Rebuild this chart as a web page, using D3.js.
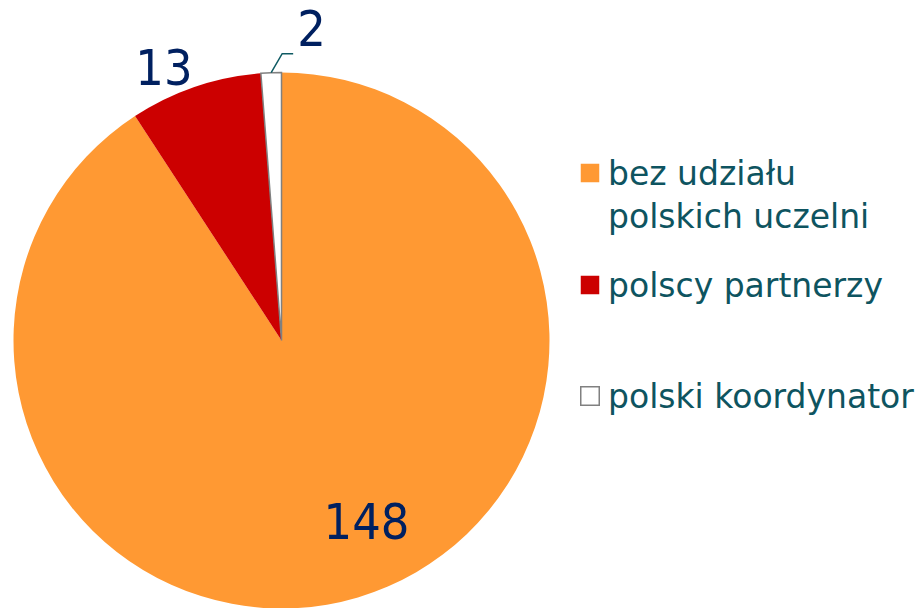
<!DOCTYPE html>
<html>
<head>
<meta charset="utf-8">
<script src="https://cdn.jsdelivr.net/npm/d3@7"></script>
<style>
  body { margin: 0; background: #fff; }
  svg text { font-family: "DejaVu Sans Condensed", "DejaVu Sans", sans-serif; }
  svg .legend text { font-family: "DejaVu Sans", sans-serif; }
</style>
</head>
<body>
<div id="chart"></div>
<script>
// slices, clockwise from 12 o'clock
const categories = ['bez udziału polskich uczelni', 'polscy partnerzy', 'polski koordynator']
const legendLines = [['bez udziału', 'polskich uczelni'], ['polscy partnerzy'], ['polski koordynator']]
const values = [148, 13, 2]
const colors = ['#ff9933', '#cc0000', '#ffffff']
const strokes = ['none', 'none', '#808080']

const w = 924, h = 608
const cx = 281.5, cy = 340.5, r = 268

const svg = d3.select('#chart').append('svg').attr('width', w).attr('height', h)
const g = svg.append('g').attr('transform', `translate(${cx},${cy})`)

const pie = d3.pie().sort(null).value(d => d)
const arcs = pie(values)
const arc = d3.arc().innerRadius(0).outerRadius(r)

g.selectAll('path.slice').data(arcs).enter().append('path')
  .classed('slice', true)
  .attr('d', arc)
  .attr('fill', (d, i) => colors[i])
  .attr('stroke', (d, i) => strokes[i])
  .attr('stroke-width', 1.5)

// labels: radius along slice mid-angle plus a small nudge
const labelOp = [
  {rad: 200, dx: 28, dy: -10},
  {rad: 297, dx: -22, dy: 9},
  {rad: 312, dx: 42, dy: 0}
]
const mid = d => (d.startAngle + d.endAngle) / 2
g.selectAll('text.lbl').data(arcs).enter().append('text')
  .classed('lbl', true)
  .text(d => d.value)
  .attr('x', (d, i) => Math.sin(mid(d)) * labelOp[i].rad + labelOp[i].dx)
  .attr('y', (d, i) => -Math.cos(mid(d)) * labelOp[i].rad + labelOp[i].dy)
  .attr('text-anchor', 'middle')
  .attr('dominant-baseline', 'central')
  .attr('font-size', 50)
  .attr('fill', '#002060')

// leader line for the small slice
const small = arcs[2]
const ex = Math.sin(mid(small)) * r, ey = -Math.cos(mid(small)) * r
g.append('path')
  .attr('d', `M${ex},${ey} L${ex + 11},${ey - 19} L${ex + 22},${ey - 19}`)
  .attr('fill', 'none').attr('stroke', '#0e5a63').attr('stroke-width', 1.5)

// legend
const legY = [163, 275, 386]
const leg = svg.selectAll('.legend').data(categories).enter().append('g')
  .classed('legend', true)
  .attr('transform', (d, i) => `translate(580, ${legY[i]})`)
leg.append('rect').attr('x', 0.75).attr('y', 0.75).attr('width', 18.5).attr('height', 18.5)
  .attr('fill', (d, i) => colors[i])
  .attr('stroke', (d, i) => strokes[i])
  .attr('stroke-width', 1.5)
leg.each(function (d, i) {
  const t = d3.select(this).append('text')
    .attr('x', 28).attr('y', 22)
    .attr('font-size', 33).attr('fill', '#0e5460')
  legendLines[i].forEach((line, j) => {
    t.append('tspan').attr('x', 28).attr('dy', j === 0 ? 0 : 43).text(line)
  })
})
</script>
</body>
</html>
